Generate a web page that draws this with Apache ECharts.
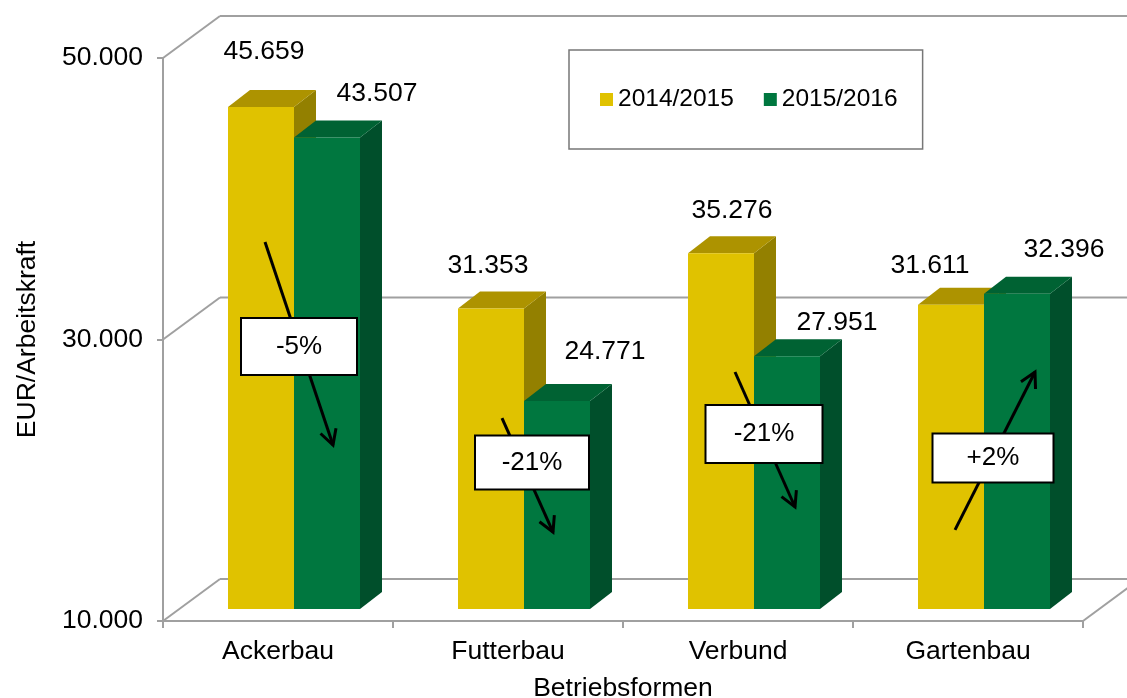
<!DOCTYPE html>
<html>
<head>
<meta charset="utf-8">
<script src="https://cdn.jsdelivr.net/npm/echarts@6/dist/echarts.min.js"></script>
<style>
  html, body { margin: 0; padding: 0; background: #fff; }
  #chart { width: 1127px; height: 698px; }
</style>
</head>
<body>
<div id="chart"></div>
<script>
var categories = ['Ackerbau', 'Futterbau', 'Verbund', 'Gartenbau'];
var values1415 = [45659, 31353, 35276, 31611];
var values1516 = [43507, 24771, 27951, 32396];
var changeLabels = ['-5%', '-21%', '-21%', '+2%'];
var yTicks = [10000, 30000, 50000];

var Y_MIN = 10000, Y_MAX = 50000;
var FONT = '"Liberation Sans", Arial, sans-serif';
var FS = 26.5;

// fake 3d: back wall offset, bar front offset into the depth, bar depth
var DX = 57, DY = -42;
var FX = 16, FY = -12;
var DDX = 22, DDY = -17;
var BAR_W = 66;

var YELLOW = { face: '#e0c200', top: '#ad9300', side: '#938000' };
var GREEN = { face: '#00773f', top: '#006233', side: '#004f2b' };
var WALL = '#a0a0a0';

// label tweaks (excel put these by hand)
var yLabelDx = [3, -3, 11, -21], yLabelDy = [-55, -43, -43, -39];
var gLabelDx = [50, 48, 50, 47], gLabelDy = [-44, -49, -34, -44];

// arrows: [x off start, value start, x off end, value end, box x off, box value, box w, box h]
var arrows = [
    [-13, 36930, 55, 22500, 21, 29500, 116, 57],
    [-6, 24420, 45, 16320, 24, 21260, 114, 54],
    [-3, 27690, 57, 18100, 26, 23290, 117, 58],
    [-13, 16470, 67, 27690, 25, 21580, 121, 49]
];

function fmt(v) {
    return String(v).replace(/\B(?=(\d{3})+(?!\d))/g, '.');
}

function barRenderer(left, col, ldx, ldy) {
    return function (params, api) {
        var i = params.dataIndex;
        var v = api.value(1);
        var p = api.coord([api.value(0), v]);
        var b = api.coord([api.value(0), Y_MIN]);
        var x0 = left ? p[0] + FX - BAR_W : p[0] + FX;
        var x1 = x0 + BAR_W;
        var yt = p[1] + FY, yb = b[1] + FY;
        return {
            type: 'group',
            children: [
                { type: 'polygon', shape: { points: [[x1, yt], [x1 + DDX, yt + DDY], [x1 + DDX, yb + DDY], [x1, yb]] }, style: { fill: col.side } },
                { type: 'polygon', shape: { points: [[x0, yt], [x1, yt], [x1 + DDX, yt + DDY], [x0 + DDX, yt + DDY]] }, style: { fill: col.top } },
                { type: 'rect', shape: { x: x0, y: yt, width: BAR_W, height: yb - yt }, style: { fill: col.face } },
                { type: 'text', x: (x0 + x1) / 2 + ldx[i], y: yt + ldy[i], style: { text: fmt(v), fill: '#000', fontSize: FS, fontFamily: FONT, align: 'center', verticalAlign: 'middle' } }
            ]
        };
    };
}

function wallRenderer(params, api) {
    var cs = params.coordSys;
    var y = api.coord([0, api.value(1)])[1];
    var st = { stroke: WALL, lineWidth: 2 };
    var children = [
        { type: 'line', shape: { x1: cs.x, y1: y, x2: cs.x + DX, y2: y + DY }, style: st },
        { type: 'line', shape: { x1: cs.x + DX, y1: y + DY, x2: cs.x + cs.width + DX, y2: y + DY }, style: st }
    ];
    if (params.dataIndex === 0) {
        children.push({ type: 'line', shape: { x1: cs.x + cs.width, y1: y, x2: cs.x + cs.width + DX, y2: y + DY }, style: st });
    }
    return { type: 'group', children: children };
}

function arrowRenderer(params, api) {
    var i = params.dataIndex;
    var a = arrows[i];
    var cx = api.coord([i, Y_MIN])[0];
    var s = [cx + a[0], api.coord([i, a[1]])[1]];
    var e = [cx + a[2], api.coord([i, a[3]])[1]];
    var ang = Math.atan2(e[1] - s[1], e[0] - s[0]);
    var hl = 17, spread = 0.5;
    var h1 = [e[0] - hl * Math.cos(ang - spread), e[1] - hl * Math.sin(ang - spread)];
    var h2 = [e[0] - hl * Math.cos(ang + spread), e[1] - hl * Math.sin(ang + spread)];
    var bx = cx + a[4], by = api.coord([i, a[5]])[1];
    var st = { stroke: '#000', lineWidth: 3 };
    return {
        type: 'group',
        children: [
            { type: 'line', shape: { x1: s[0], y1: s[1], x2: e[0], y2: e[1] }, style: st },
            { type: 'polyline', shape: { points: [h1, e, h2] }, style: { stroke: '#000', lineWidth: 3, fill: null } },
            { type: 'rect', shape: { x: bx - a[6] / 2, y: by - a[7] / 2, width: a[6], height: a[7] }, style: { fill: '#fff', stroke: '#000', lineWidth: 2 } },
            { type: 'text', x: bx, y: by, style: { text: changeLabels[i], fill: '#000', fontSize: 26, fontFamily: FONT, align: 'center', verticalAlign: 'middle' } }
        ]
    };
}

var chart = echarts.init(document.getElementById('chart'));
chart.setOption({
    animation: false,
    backgroundColor: '#fff',
    textStyle: { fontFamily: FONT },
    grid: { left: 163, top: 58, width: 920, height: 563, containLabel: false, outerBoundsMode: 'none' },
    legend: {
        left: 569, top: 50,
        data: [{ name: '2014/2015', icon: 'rect' }, { name: '2015/2016', icon: 'rect' }],
        itemWidth: 13, itemHeight: 13, itemGap: 30,
        padding: [37, 25, 37, 31],
        backgroundColor: '#fff', borderColor: '#777', borderWidth: 1.5, borderRadius: 0,
        textStyle: { color: '#000', fontSize: 24.5, fontFamily: FONT }
    },
    xAxis: {
        type: 'category',
        data: categories,
        name: 'Betriebsformen',
        nameLocation: 'middle',
        nameGap: 54,
        nameTextStyle: { color: '#000', fontSize: FS, fontFamily: FONT },
        axisLine: { lineStyle: { color: WALL, width: 2 } },
        axisTick: { show: true, length: 7, lineStyle: { color: WALL, width: 2 } },
        axisLabel: { color: '#000', fontSize: FS, fontFamily: FONT, margin: 17 },
        splitLine: { show: false }
    },
    yAxis: {
        type: 'value',
        min: Y_MIN, max: Y_MAX, interval: 20000,
        name: 'EUR/Arbeitskraft',
        nameLocation: 'middle',
        nameRotate: 90,
        nameGap: 122,
        nameTextStyle: { color: '#000', fontSize: FS, fontFamily: FONT },
        axisLine: { show: true, lineStyle: { color: WALL, width: 2 } },
        axisTick: { show: true, length: 6, lineStyle: { color: WALL, width: 2 } },
        axisLabel: { color: '#000', fontSize: FS, fontFamily: FONT, margin: 20, formatter: fmt },
        splitLine: { show: false }
    },
    series: [
        {
            type: 'custom', name: 'walls', silent: true, z: 1,
            data: yTicks.map(function (v) { return [0, v]; }),
            encode: { x: 0, y: 1 },
            renderItem: wallRenderer
        },
        {
            type: 'custom', name: '2014/2015', z: 2,
            itemStyle: { color: YELLOW.face },
            data: values1415.map(function (v, i) { return [i, v]; }),
            encode: { x: 0, y: 1 },
            renderItem: barRenderer(true, YELLOW, yLabelDx, yLabelDy)
        },
        {
            type: 'custom', name: '2015/2016', z: 3,
            itemStyle: { color: GREEN.face },
            data: values1516.map(function (v, i) { return [i, v]; }),
            encode: { x: 0, y: 1 },
            renderItem: barRenderer(false, GREEN, gLabelDx, gLabelDy)
        },
        {
            type: 'custom', name: 'change', silent: true, z: 4,
            data: changeLabels.map(function (t, i) { return [i, Y_MIN]; }),
            encode: { x: 0, y: 1 },
            renderItem: arrowRenderer
        }
    ]
});
</script>
</body>
</html>
